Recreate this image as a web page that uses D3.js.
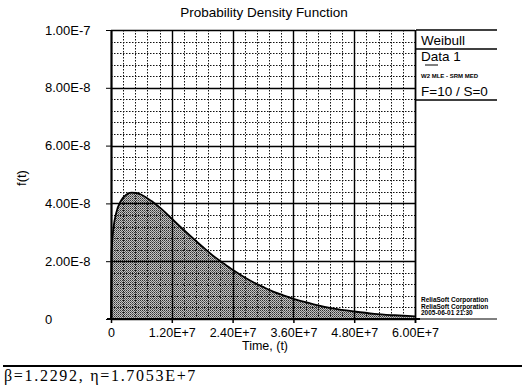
<!DOCTYPE html>
<html>
<head>
<meta charset="utf-8">
<script src="https://cdn.jsdelivr.net/npm/d3@7"></script>
<style>
  body { margin: 0; background: #fff; }
  svg { display: block; font-family: "Liberation Sans", Arial, sans-serif; }
</style>
</head>
<body>
<svg id="chart" width="522" height="385"></svg>
<script>
// values
const timeVals = [0, 1e5, 2e5, 5e5, 1e6, 2e6, 3e6, 4e6, 5e6, 6e6, 8e6, 1e7, 1.2e7, 1.4e7, 1.6e7, 1.8e7,
  2e7, 2.2e7, 2.4e7, 2.6e7, 2.8e7, 3e7, 3.2e7, 3.4e7, 3.6e7, 3.8e7, 4e7, 4.4e7, 4.8e7, 5.2e7, 5.6e7, 6e7];
const pdfVals = [0, 2.22e-8, 2.59e-8, 3.17e-8, 3.65e-8, 4.10e-8, 4.30e-8, 4.37e-8, 4.36e-8, 4.30e-8, 4.08e-8,
  3.80e-8, 3.47e-8, 3.14e-8, 2.82e-8, 2.51e-8, 2.21e-8, 1.95e-8, 1.70e-8, 1.48e-8, 1.28e-8, 1.11e-8,
  0.95e-8, 0.82e-8, 0.70e-8, 0.60e-8, 0.51e-8, 0.36e-8, 0.26e-8, 0.18e-8, 0.13e-8, 0.09e-8];
const xTicks = [0, 1.2e7, 2.4e7, 3.6e7, 4.8e7, 6e7];
const xTickLabels = ["0", "1.20E+7", "2.40E+7", "3.60E+7", "4.80E+7", "6.00E+7"];
const yTicks = [0, 2e-8, 4e-8, 6e-8, 8e-8, 1e-7];
const yTickLabels = ["0", "2.00E-8", "4.00E-8", "6.00E-8", "8.00E-8", "1.00E-7"];
const legendLines = ["Weibull", "Data 1", "W2 MLE - SRM MED", "F=10 / S=0"];
const stampLines = ["ReliaSoft Corporation", "ReliaSoft Corporation", "2005-06-01 21:30"];

const svg = d3.select("#chart");
const pLeft = 111, pRight = 415, pTop = 30, pBottom = 319;

const x = d3.scaleLinear().domain([0, 6e7]).range([pLeft, pRight]);
const y = d3.scaleLinear().domain([0, 1e-7]).range([pBottom, pTop]);

// halftone fill
const defs = svg.append("defs");
const pat = defs.append("pattern").attr("id", "dots")
  .attr("width", 2).attr("height", 2).attr("patternUnits", "userSpaceOnUse");
pat.append("rect").attr("width", 2).attr("height", 2).attr("fill", "#c4c4c4");
pat.append("rect").attr("width", 1).attr("height", 1).attr("fill", "#333");
pat.append("rect").attr("x", 1).attr("y", 1).attr("width", 1).attr("height", 1).attr("fill", "#666");

const pts = timeVals.map((t, i) => [t, pdfVals[i]]);

svg.append("path")
  .datum(pts)
  .attr("fill", "url(#dots)")
  .attr("d", d3.area().x(d => x(d[0])).y0(y(0)).y1(d => y(d[1])).curve(d3.curveMonotoneX));

// grid
const g = svg.append("g");
const xMinor = d3.range(0, 6e7 + 1, 2.4e6);
const yMinor = d3.range(0, 1e-7 + 1e-12, 4e-9);
g.selectAll(".vm").data(xMinor).enter().append("line")
  .attr("x1", d => Math.round(x(d)) + 0.5).attr("x2", d => Math.round(x(d)) + 0.5)
  .attr("y1", pTop).attr("y2", pBottom)
  .attr("stroke", "#111").attr("stroke-dasharray", "1.5,1.5");
g.selectAll(".hm").data(yMinor).enter().append("line")
  .attr("y1", d => Math.round(y(d)) + 0.5).attr("y2", d => Math.round(y(d)) + 0.5)
  .attr("x1", pLeft).attr("x2", pRight)
  .attr("stroke", "#111").attr("stroke-dasharray", "1.5,1.5");
g.selectAll(".vM").data(xTicks).enter().append("line")
  .attr("x1", d => Math.round(x(d)) + 0.5).attr("x2", d => Math.round(x(d)) + 0.5)
  .attr("y1", pTop).attr("y2", pBottom)
  .attr("stroke", "#000").attr("stroke-width", 1.4);
g.selectAll(".hM").data(yTicks).enter().append("line")
  .attr("y1", d => Math.round(y(d)) + 0.5).attr("y2", d => Math.round(y(d)) + 0.5)
  .attr("x1", pLeft).attr("x2", pRight)
  .attr("stroke", "#000").attr("stroke-width", 1.4);

// curve
svg.append("path")
  .datum(pts)
  .attr("fill", "none")
  .attr("stroke", "#000")
  .attr("stroke-width", 1.8)
  .attr("d", d3.line().x(d => x(d[0])).y(d => y(d[1])).curve(d3.curveMonotoneX));

// axes
const xAxis = svg.append("g")
  .attr("transform", "translate(0," + pBottom + ")")
  .call(d3.axisBottom(x).tickValues(xTicks).tickFormat((d, i) => xTickLabels[i]).tickSizeInner(4).tickSizeOuter(0));
xAxis.select(".domain").attr("stroke-width", 2).attr("d", "M" + (pLeft - 4) + ",0H" + (pRight + 5));
xAxis.selectAll("text").attr("font-size", 12.5).attr("fill", "#000").attr("y", 18).attr("dy", null)
  .attr("font-family", "Liberation Sans, Arial, sans-serif");
xAxis.selectAll(".tick line").attr("stroke-width", 1.5);

const yAxis = svg.append("g")
  .attr("transform", "translate(" + pLeft + ",0)")
  .call(d3.axisLeft(y).tickValues(yTicks).tickFormat((d, i) => yTickLabels[i]).tickSizeInner(5).tickSizeOuter(0));
yAxis.select(".domain").attr("stroke-width", 2);
yAxis.selectAll("text").attr("font-size", 13).attr("fill", "#000")
  .attr("text-anchor", "start").attr("x", 45 - pLeft)
  .attr("font-family", "Liberation Sans, Arial, sans-serif");

// right border
svg.append("line").attr("x1", pRight + 0.5).attr("x2", pRight + 0.5).attr("y1", pTop).attr("y2", pBottom + 4)
  .attr("stroke", "#000").attr("stroke-width", 1.5);

// titles
svg.append("text").attr("x", 264).attr("y", 17).attr("text-anchor", "middle")
  .attr("font-size", 13.5).text("Probability Density Function");
svg.append("text").attr("x", 265).attr("y", 350).attr("text-anchor", "middle")
  .attr("font-size", 12.5).text("Time, (t)");
svg.append("text").attr("transform", "translate(26,178) rotate(-90)").attr("text-anchor", "middle")
  .attr("font-size", 13).text("f(t)");

// legend box
const lg = svg.append("g");
[30, 49, 100].forEach(yy => lg.append("line").attr("x1", 416).attr("x2", 497)
  .attr("y1", yy).attr("y2", yy).attr("stroke", "#000").attr("stroke-width", 1.5));
lg.append("line").attr("x1", 425).attr("x2", 438).attr("y1", 65).attr("y2", 65).attr("stroke", "#000");
lg.append("text").attr("x", 421).attr("y", 45).attr("font-size", 13.5).text(legendLines[0]);
lg.append("text").attr("x", 421).attr("y", 61).attr("font-size", 13.5).text(legendLines[1]);
lg.append("text").attr("x", 421).attr("y", 78).attr("font-size", 6).attr("font-weight", "bold").text(legendLines[2]);
lg.append("text").attr("x", 421).attr("y", 96).attr("font-size", 13.5).text(legendLines[3]);

// stamp
stampLines.forEach((s, i) => lg.append("text").attr("x", 421).attr("y", 302 + i * 6.5)
  .attr("font-size", 6.5).attr("font-weight", "bold").text(s));
lg.append("line").attr("x1", 416).attr("x2", 497).attr("y1", 319).attr("y2", 319).attr("stroke", "#000");

// footer
svg.append("line").attr("x1", 3).attr("x2", 522).attr("y1", 366).attr("y2", 366)
  .attr("stroke", "#000").attr("stroke-width", 2);
svg.append("text").attr("x", 4).attr("y", 381).attr("font-size", 16).attr("letter-spacing", 1.7)
  .attr("font-family", "Liberation Serif, Times New Roman, serif")
  .text("β=1.2292, η=1.7053E+7");
</script>
</body>
</html>
